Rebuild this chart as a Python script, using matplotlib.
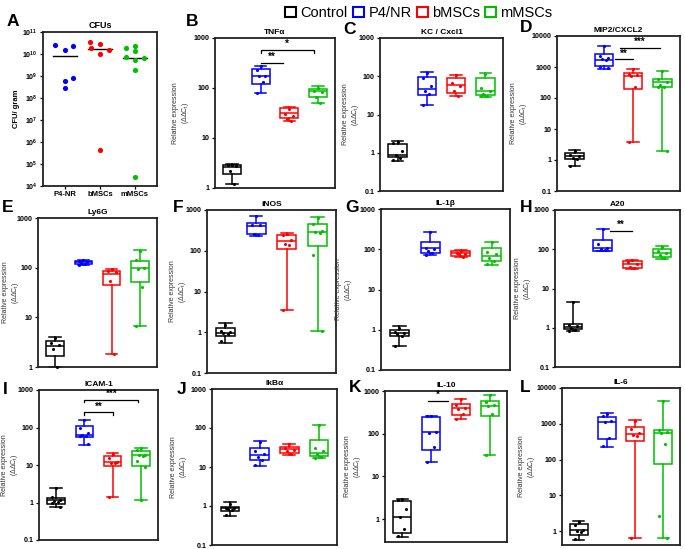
import matplotlib
matplotlib.use('Agg')
import matplotlib.pyplot as plt
from matplotlib.patches import Patch
from matplotlib.ticker import FixedLocator, NullLocator
import numpy as np

plt.rcParams['font.family'] = ['Liberation Sans', 'DejaVu Sans']
plt.rcParams['mathtext.fontset'] = 'custom'
plt.rcParams['mathtext.rm'] = 'Liberation Sans'
plt.rcParams['mathtext.bf'] = 'Liberation Sans:bold'
plt.rcParams['mathtext.it'] = 'Liberation Sans:italic'

# ---------------- data ----------------
groups = ['Control', 'P4/NR', 'bMSCs', 'mMSCs']
colors = ['black', '#0000FF', '#FF0000', '#00C000']

# Panel A : CFU / gram
cfu_categories = ['P4-NR', 'bMSCs', 'mMSCs']
cfu_p4nr = [2.6e10, 1.6e10, 2.3e10, 5.9e8, 2.8e8, 8.3e8]
cfu_bmsc = [3.6e10, 2.8e10, 1.8e10, 1.6e10, 1.0e10, 4.4e5]
cfu_mmsc = [1.8e10, 2.4e10, 1.4e10, 7.1e9, 5.4e9, 6.3e9, 1.9e9, 2.6e4]

# box stats per group: [whisker low, q1, median, q3, whisker high]
tnf_box = [[1.2, 1.9, 2.6, 2.9, 3.0], [78, 120, 170, 240, 280], [22, 25.5, 31, 39, 41], [49, 67, 86, 95, 110]]
tnf_pts = [[2.95, 2.9, 2.8, 2.2, 1.2], [270, 224, 174, 170, 130, 78], [38, 30, 28, 24, 22], [100, 88, 85, 65, 50]]

kc_box = [[0.62, 0.76, 0.9, 1.7, 2.0], [18, 32, 46, 98, 130], [30, 37, 60, 92, 110], [29, 32, 40, 92, 125]]
kc_pts = [[1.9, 1.8, 1.1, 0.85, 0.75, 0.65], [120, 90, 55, 42, 35, 18], [105, 65, 55, 40, 30], [118, 48, 42, 35, 31, 30]]

mip2_box = [[0.65, 1.05, 1.35, 1.7, 2.1], [870, 1080, 1700, 2550, 4900], [3.9, 190, 520, 630, 850], [2.0, 220, 330, 410, 740]]
mip2_pts = [[1.9, 1.5, 1.3, 1.2, 1.1, 0.65], [4900, 2300, 1900, 1800, 1700, 1000, 900],
            [850, 600, 550, 500, 230, 3.9], [750, 420, 330, 260, 230, 220, 2.0]]

ly6g_box = [[1.0, 1.7, 2.6, 3.4, 4.0], [112, 118, 130, 135, 142], [1.8, 45, 74, 87, 93], [6.8, 52, 98, 135, 228]]
ly6g_pts = [[3.9, 3.0, 2.8, 2.3, 1.0], [140, 135, 130, 125, 120, 115], [95, 85, 80, 55, 1.8], [220, 140, 100, 95, 40, 6.8]]

inos_box = [[0.55, 0.8, 0.96, 1.3, 1.7], [235, 260, 410, 490, 710], [3.6, 110, 177, 245, 270], [1.1, 132, 295, 450, 660]]
inos_pts = [[1.5, 1.1, 1.0, 0.95, 0.9, 0.6], [700, 430, 420, 260, 240], [265, 245, 180, 150, 140, 3.6],
            [650, 450, 300, 290, 280, 80, 1.1]]

il1b_box = [[0.40, 0.71, 0.83, 0.96, 1.26], [72, 79, 105, 155, 275], [63, 68, 79, 91, 96], [41, 51, 68, 105, 155]]
il1b_pts = [[1.1, 0.9, 0.85, 0.8, 0.7, 0.4], [270, 110, 100, 90, 80, 73], [90, 80, 78, 75, 65], [150, 85, 75, 60, 50, 42]]

a20_box = [[0.81, 0.93, 1.07, 1.24, 4.4], [92, 92, 107, 175, 325], [31, 34, 42, 50, 54], [56, 65, 79, 100, 120]]
a20_pts = [[4.4, 1.2, 1.1, 1.0, 0.9, 0.85], [320, 140, 105, 100, 95], [52, 48, 42, 36, 33], [115, 90, 80, 70, 60]]

icam_box = [[0.74, 0.94, 1.15, 1.35, 2.4], [35, 56, 63, 113, 162], [1.4, 9.3, 11.8, 17.7, 20.5], [1.15, 9.3, 18, 23, 29]]
icam_pts = [[2.4, 1.4, 1.2, 1.1, 1.05, 0.95, 0.75], [160, 100, 70, 65, 60, 58, 36], [20, 15, 12, 11.5, 11, 1.4],
            [28, 25, 19, 18, 17, 13, 9, 1.15]]

ikba_box = [[0.56, 0.76, 0.87, 0.96, 1.24], [10.7, 15, 20, 30, 47], [20, 23.5, 29, 33.5, 39], [17, 18.6, 23.5, 48, 120]]
ikba_pts = [[1.1, 0.9, 0.88, 0.85, 0.8, 0.6], [45, 25, 22, 18, 15, 11], [38, 30, 28, 25, 21], [120, 30, 25, 22, 18, 17]]

il10_box = [[0.37, 0.46, 1.1, 2.7, 2.9], [21.5, 41, 107, 250, 265], [218, 275, 390, 490, 650], [31.6, 260, 445, 590, 810]]
il10_pts = [[2.9, 2.8, 1.7, 1.1, 0.6, 0.4], [260, 255, 110, 105, 48, 22], [650, 480, 400, 380, 290, 220],
            [800, 550, 480, 450, 290, 32]]

il6_box = [[0.56, 0.77, 1.07, 1.55, 1.9], [230, 370, 1150, 1570, 1950], [0.66, 320, 510, 810, 1240], [0.63, 76, 550, 650, 4200]]
il6_pts = [[1.8, 1.5, 1.1, 1.0, 0.95, 0.6], [1900, 1600, 1200, 1150, 400, 240], [1200, 700, 550, 480, 450, 0.66],
           [4200, 650, 600, 560, 280, 2.6, 0.63]]

# significance marks: (x1, x2, y, text, bracket)
tnf_sig = [(2, 2.78, 316, '**', False), (2, 3.86, 575, '*', True)]
mip2_sig = [(2.38, 2.99, 1780, '**', False), (2.55, 3.92, 4200, '***', False)]
a20_sig = [(2.25, 2.98, 295, '**', False)]
icam_sig = [(2, 3, 253, '**', True), (2, 3.9, 550, '***', True)]
il10_sig = [(1.88, 2.57, 590, '*', False)]

# ---------------- layout (pixels: left, top, right, bottom) ----------------
W, H = 685, 549
fig = plt.figure(figsize=(W / 100, H / 100), dpi=100)


def add_ax(l, t, r, b):
    return fig.add_axes([l / W, 1 - b / H, (r - l) / W, (b - t) / H])


def style_ax(ax):
    for s in ax.spines.values():
        s.set_linewidth(1.3)
        s.set_color('#222222')
    ax.tick_params(axis='both', length=2.5, width=0.9, labelsize=5.1, pad=1.2)
    for lab in ax.get_yticklabels() + ax.get_xticklabels():
        lab.set_fontweight('bold')


jit = [0.0, -0.14, 0.14, -0.07, 0.07, -0.14, 0.14, 0.0]


def box_panel(l, t, r, b, title, boxes, points, ylim, yticks, sig=(), lab_off=24):
    ax = add_ax(l, t, r, b)
    ax.set_yscale('log')
    stats = [dict(whislo=s[0], q1=s[1], med=s[2], q3=s[3], whishi=s[4], fliers=[]) for s in boxes]
    art = ax.bxp(stats, positions=[1, 2, 3, 4], widths=0.62, patch_artist=True,
                 showfliers=False, capwidths=0.4)
    for i, c in enumerate(colors):
        art['boxes'][i].set(facecolor='white', edgecolor=c, linewidth=1.1)
        art['medians'][i].set(color=c, linewidth=1.1)
        for w in art['whiskers'][2 * i:2 * i + 2]:
            w.set(color=c, linewidth=1.1)
        for cp in art['caps'][2 * i:2 * i + 2]:
            cp.set(color=c, linewidth=1.1, clip_on=False)
        p = points[i]
        ax.scatter([i + 1 + jit[k % len(jit)] for k in range(len(p))], p, s=5, color=c,
                   zorder=5, clip_on=False, linewidths=0)
    ax.set_xlim(0.4, 4.6)
    ax.set_ylim(*ylim)
    ax.yaxis.set_major_locator(FixedLocator(yticks))
    ax.yaxis.set_minor_locator(NullLocator())
    ax.set_yticklabels([('%g' % v) for v in yticks])
    ax.set_xticks([])
    ax.set_title(title, fontsize=6, fontweight='bold', pad=3)
    ax.set_ylabel('Relative expression\n(ΔΔC$_\\mathregular{t}$)', fontsize=5, linespacing=1.15,
                  color='#333333')
    ax.yaxis.set_label_coords(-lab_off / (r - l), 0.5)
    style_ax(ax)
    for (x1, x2, y, txt, br) in sig:
        if br:
            ylo = y / 10 ** 0.06
            ax.plot([x1, x1, x2, x2], [ylo, y, y, ylo], color='black', lw=0.9)
        else:
            ax.plot([x1, x2], [y, y], color='black', lw=0.9)
        ax.annotate(txt, ((x1 + x2) / 2, y), xytext=(0, 0.5), textcoords='offset points',
                    ha='center', va='bottom', fontsize=7, fontweight='bold')
    return ax


# Panel A
axA = add_ax(43, 32, 157, 186)
axA.set_yscale('log')
a_off = [[-0.28, 0, 0.24, 0, 0, 0.24], [-0.29, 0, -0.27, 0.26, 0, 0], [-0.27, 0, 0, -0.27, 0, 0.26, 0, 0]]
for i, (vals, c) in enumerate(zip([cfu_p4nr, cfu_bmsc, cfu_mmsc], colors[1:])):
    axA.scatter([i + 1 + o for o in a_off[i]], vals, s=14, color=c, linewidths=0, zorder=3)
    med = np.median(vals)
    axA.plot([i + 1 - 0.33, i + 1 + 0.33], [med, med], color='black', lw=1.0)
axA.set_xlim(0.37, 3.63)
axA.set_ylim(1e4, 1e11)
axA.set_xticks([1, 2, 3])
axA.set_xticklabels(cfu_categories)
yt = [10 ** k for k in range(4, 12)]
axA.yaxis.set_major_locator(FixedLocator(yt))
axA.yaxis.set_minor_locator(NullLocator())
axA.set_yticklabels([r'$\mathbf{10^{%d}}$' % k for k in range(4, 12)])
axA.set_title('CFUs', fontsize=6.5, fontweight='bold', pad=3)
axA.set_ylabel('CFU/ gram', fontsize=5.5, fontweight='bold', labelpad=2)
style_ax(axA)
axA.tick_params(axis='x', labelsize=5.5)

box_panel(215, 38, 335, 188, 'TNFα', tnf_box, tnf_pts, (1, 1000), [1, 10, 100, 1000], tnf_sig, lab_off=24)
box_panel(380, 38, 503, 191, 'KC / Cxcl1', kc_box, kc_pts, (0.1, 1000), [0.1, 1, 10, 100, 1000], lab_off=19)
box_panel(557, 36, 680, 191, 'MIP2/CXCL2', mip2_box, mip2_pts, (0.1, 10000), [0.1, 1, 10, 100, 1000, 10000],
          mip2_sig, lab_off=28)
box_panel(38, 218, 157, 367, 'Ly6G', ly6g_box, ly6g_pts, (1, 1000), [1, 10, 100, 1000], lab_off=17)
box_panel(207, 210, 336, 373, 'iNOS', inos_box, inos_pts, (0.1, 1000), [0.1, 1, 10, 100, 1000], lab_off=19)
box_panel(381, 209, 510, 370, 'IL-1β', il1b_box, il1b_pts, (0.1, 1000), [0.1, 1, 10, 100, 1000], lab_off=27)
box_panel(555, 210, 680, 367, 'A20', a20_box, a20_pts, (0.1, 1000), [0.1, 1, 10, 100, 1000], a20_sig, lab_off=22)
box_panel(39, 390, 158, 540, 'ICAM-1', icam_box, icam_pts, (0.1, 1000), [0.1, 1, 10, 100, 1000], icam_sig, lab_off=19)
box_panel(212, 389, 337, 545, 'IkBα', ikba_box, ikba_pts, (0.1, 1000), [0.1, 1, 10, 100, 1000], lab_off=23)
box_panel(385, 391, 507, 542, 'IL-10', il10_box, il10_pts, (0.29, 1000), [1, 10, 100, 1000], il10_sig, lab_off=22)
box_panel(562, 388, 680, 545, 'IL-6', il6_box, il6_pts, (0.41, 10000), [1, 10, 100, 1000, 10000], lab_off=25)

# panel letters
letters = [('A', 7, 22), ('B', 186, 22), ('C', 343, 30), ('D', 520, 27),
           ('E', 2, 207), ('F', 173, 208), ('G', 345, 208), ('H', 520, 208),
           ('I', 3, 390), ('J', 177, 390), ('K', 349, 388), ('L', 520, 388)]
for s, x, y in letters:
    fig.text(x / W, 1 - y / H, s, fontsize=12.5, fontweight='bold', ha='left', va='center')

handles = [Patch(facecolor='white', edgecolor=c, linewidth=1.5, label=g) for g, c in zip(groups, colors)]
fig.legend(handles=handles, loc='center', bbox_to_anchor=(419 / W, 1 - 13 / H), ncol=4, fontsize=10.5,
           frameon=False, handlelength=0.75, handleheight=0.75, handletextpad=0.3, columnspacing=0.35,
           borderpad=0)

fig.savefig('out.png', dpi=100)
